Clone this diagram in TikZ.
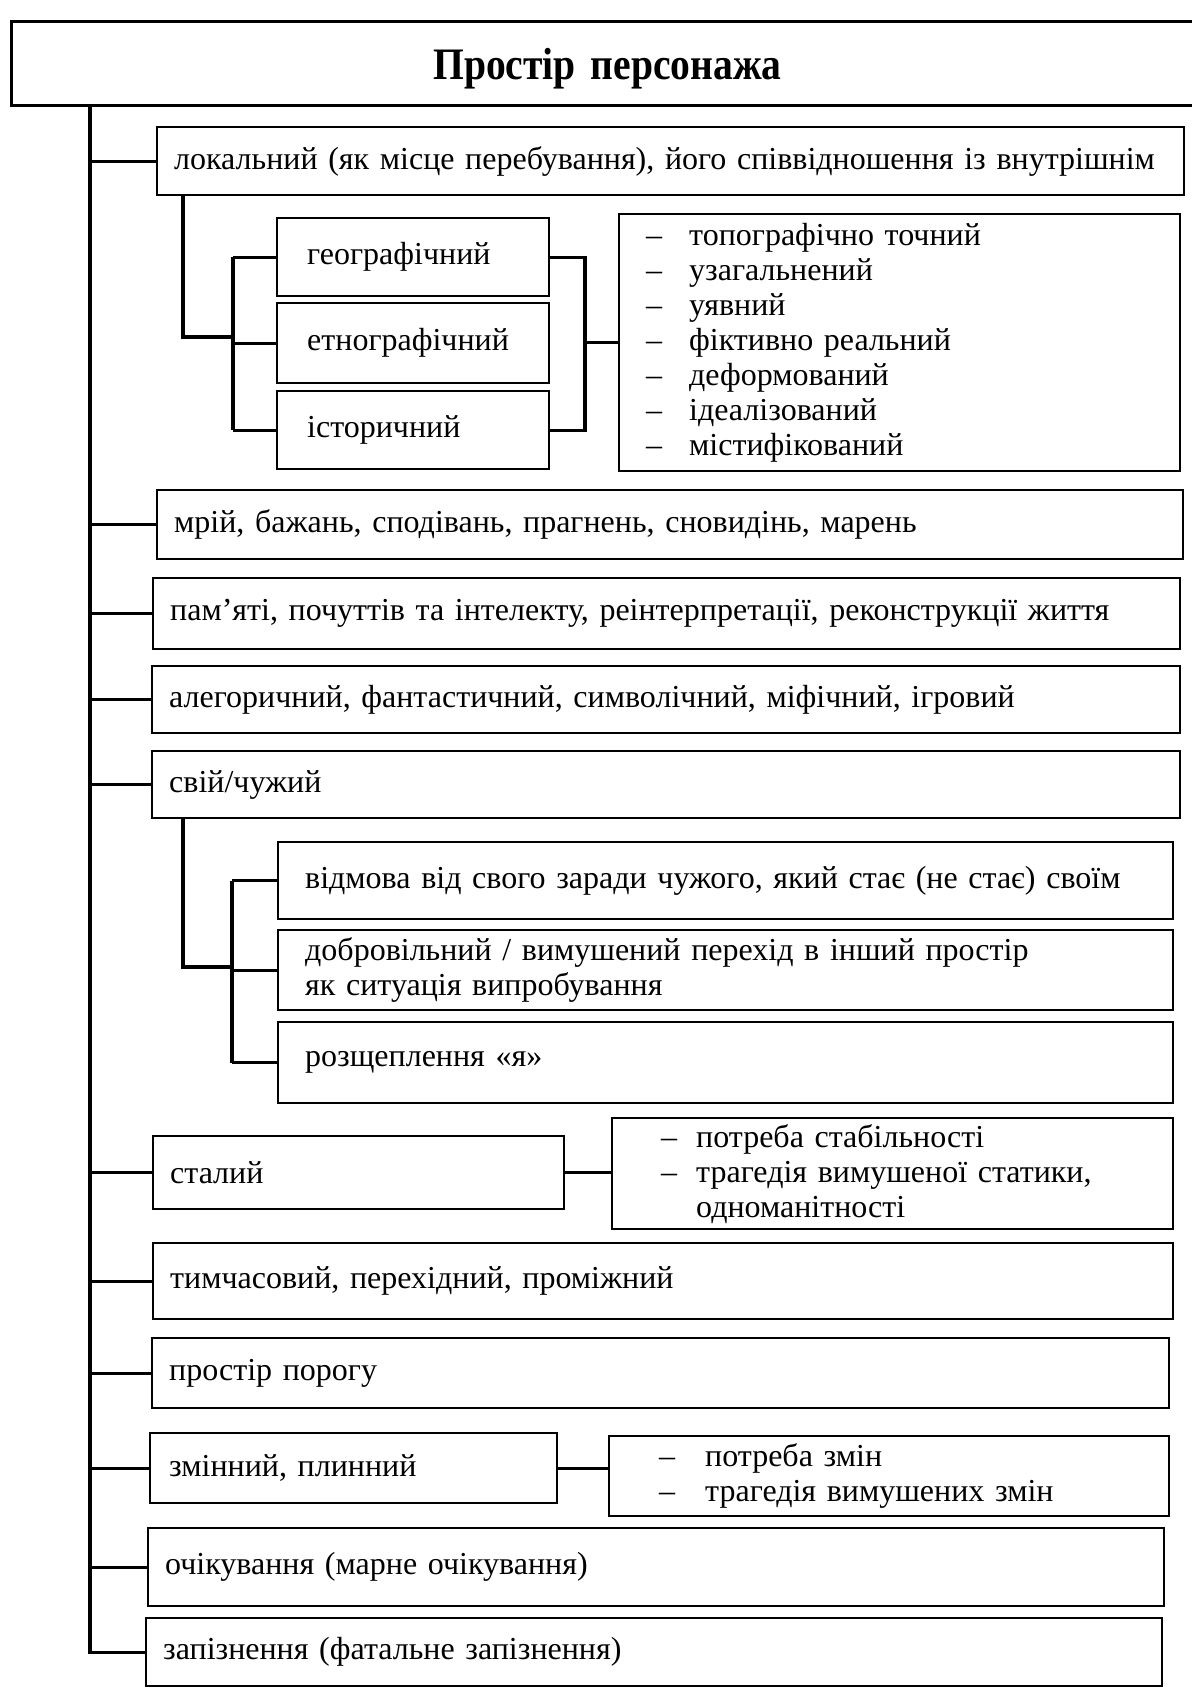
\documentclass[tikz,border=0pt]{standalone}
\usepackage{fontspec}
\setmainfont{Liberation Serif}
\newfontfamily\titlefont{Liberation Serif}[FakeStretch=0.88]
\tikzset{
  box/.style={draw, line width=2.4pt, anchor=north west, align=left, inner xsep=17pt, inner ysep=0pt, font=\fontsize{32}{35}\selectfont},
  link/.style={line width=3.2pt},
}
\newcommand{\itemdash}[1]{\makebox[#1][l]{–}}
\begin{document}
\begin{tikzpicture}[x=1pt, y=-1pt]
\useasboundingbox (0,0) rectangle (1191,1688);
\node[box, line width=3pt, align=center, text width=1158pt, minimum height=84pt, text depth=0pt, font=\titlefont\bfseries\fontsize{45}{50}\selectfont] (title) at (10,20) {Простір персонажа};

\node[box, text width=993pt, minimum height=68pt] (loc) at (156,126) {локальний (як місце перебування), його співвідношення із внутрішнім};
\node[box, inner xsep=30pt, text width=212pt, minimum height=78pt] (geo) at (276,217) {географічний};
\node[box, inner xsep=30pt, text width=212pt, minimum height=80pt] (etno) at (276,302) {етнографічний};
\node[box, inner xsep=30pt, text width=212pt, minimum height=78pt] (ist) at (276,390) {історичний};
\node[box, inner xsep=27pt, text width=507pt, minimum height=257pt] (props) at (618,213) {\itemdash{43pt}топографічно точний\\ \itemdash{43pt}узагальнений\\ \itemdash{43pt}уявний\\ \itemdash{43pt}фіктивно реальний\\ \itemdash{43pt}деформований\\ \itemdash{43pt}ідеалізований\\ \itemdash{43pt}містифікований};
\node[box, text width=992pt, minimum height=69pt] (mrij) at (156,489) {мрій, бажань, сподівань, прагнень, сновидінь, марень};
\node[box, text width=993pt, minimum height=71pt] (pam) at (152,577) {пам’яті, почуттів та інтелекту, реінтерпретації, реконструкції життя};
\node[box, text width=994pt, minimum height=67pt] (aleg) at (151,665) {алегоричний, фантастичний, символічний, міфічний, ігровий};
\node[box, text width=994pt, minimum height=67pt] (svij) at (151,750) {свій/чужий};
\node[box, inner xsep=27pt, text width=841pt, minimum height=77pt] (vidm) at (277,841) {відмова від свого заради чужого, який стає (не стає) своїм};
\node[box, inner xsep=27pt, text width=841pt, minimum height=80pt] (dobr) at (277,929) {добровільний / вимушений перехід в інший простір\\як ситуація випробування};
\node[box, inner xsep=27pt, text width=841pt, minimum height=81pt] (rozsh) at (277,1021) {розщеплення «я»};
\node[box, text width=377pt, minimum height=73pt] (stal) at (152,1135) {сталий};
\node[box, inner xsep=49pt, text width=463pt, minimum height=111pt] (stab) at (611,1117) {\itemdash{35pt}потреба стабільності\\ \itemdash{35pt}трагедія вимушеної статики,\\ \hspace*{35pt}одноманітності};
\node[box, text width=986pt, minimum height=76pt] (tymch) at (152,1242) {тимчасовий, перехідний, проміжний};
\node[box, text width=983pt, minimum height=70pt] (porig) at (151,1337) {простір порогу};
\node[box, inner xsep=19pt, text width=369pt, minimum height=70pt] (zmin) at (149,1432) {змінний, плинний};
\node[box, inner xsep=50pt, text width=460pt, minimum height=80pt] (zminy) at (608,1435) {\itemdash{46pt}потреба змін\\ \itemdash{46pt}трагедія вимушених змін};
\node[box, text width=982pt, minimum height=78pt] (ochik) at (147,1527) {очікування (марне очікування)};
\node[box, text width=982pt, minimum height=68pt] (zap) at (145,1617) {запізнення (фатальне запізнення)};

\coordinate (trunk) at (90,104);
\draw[link] (trunk) |- (zap.west);
\foreach \n in {loc,mrij,pam,aleg,svij,stal,tymch,porig,zmin,ochik}
  \draw[link] (trunk |- \n.west) -- (\n.west);

\coordinate (locdrop) at (183,337);
\coordinate (locspine) at (233,337);
\draw[link] (loc.south -| locdrop) -- (locdrop) -- (locspine);
\draw[link] (locspine |- geo.west) -- (locspine |- ist.west);
\foreach \n in {geo,etno,ist}
  \draw[link] (locspine |- \n.west) -- (\n.west);
\coordinate (rfork) at (585,343);
\draw[link] (geo.east) -| (rfork) |- (ist.east);
\draw[link] (rfork |- props.west) -- (props.west);

\coordinate (svijdrop) at (183,967);
\coordinate (svijspine) at (232,967);
\draw[link] (svij.south -| svijdrop) -- (svijdrop) -- (svijspine);
\draw[link] (svijspine |- vidm.west) -- (svijspine |- rozsh.west);
\foreach \n in {vidm,dobr,rozsh}
  \draw[link] (svijspine |- \n.west) -- (\n.west);

\draw[link] (stal.east) -- (stal.east -| stab.west);
\draw[link] (zmin.east) -- (zmin.east -| zminy.west);
\end{tikzpicture}
\end{document}
